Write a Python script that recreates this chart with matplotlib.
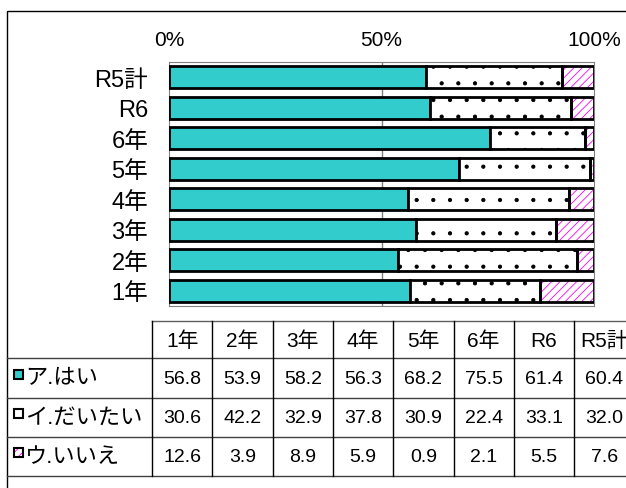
import matplotlib.pyplot as plt
from matplotlib.patches import Rectangle

plt.rcParams['font.family'] = ['Liberation Sans', 'Noto Sans CJK JP', 'DejaVu Sans']
plt.rcParams['hatch.linewidth'] = 0.6

# data (table column order, bottom bar first)
groups = ['1年', '2年', '3年', '4年', '5年', '6年', 'R6', 'R5計']
hai = [56.8, 53.9, 58.2, 56.3, 68.2, 75.5, 61.4, 60.4]
daitai = [30.6, 42.2, 32.9, 37.8, 30.9, 22.4, 33.1, 32.0]
iie = [12.6, 3.9, 8.9, 5.9, 0.9, 2.1, 5.5, 7.6]
series_names = ['ア.はい', 'イ.だいたい', 'ウ.いいえ']

W, H = 626, 489
fig = plt.figure(figsize=(W / 100, H / 100), dpi=100)

# overlay in pixel coordinates for frame + table
ov = fig.add_axes([0, 0, 1, 1])
ov.set_xlim(0, W)
ov.set_ylim(H, 0)
ov.axis('off')
ov.add_patch(Rectangle((7, 12), 700, 600, fill=False, edgecolor='black', lw=1))

# bar chart
ax = fig.add_axes([169 / W, 1 - 307 / H, (594 - 169) / W, (307 - 63) / H])
y = list(range(len(groups)))
left2 = hai
left3 = [a + b for a, b in zip(hai, daitai)]
bh = 0.72

ax.barh(y, hai, height=bh, color='#33CCCC', edgecolor='black', lw=2, zorder=3)
ax.barh(y, daitai, left=left2, height=bh, color='white', edgecolor='black',
        hatch='.', lw=0, zorder=3)
ax.barh(y, daitai, left=left2, height=bh, color='none', edgecolor='black', lw=2, zorder=4)
ax.barh(y, iie, left=left3, height=bh, color='white', edgecolor='#FF00FF',
        hatch='////', lw=0, zorder=3)
ax.barh(y, iie, left=left3, height=bh, color='none', edgecolor='black', lw=2, zorder=4)

ax.set_xlim(0, 100)
ax.set_ylim(-0.5, len(groups) - 0.5)
ax.axvline(50, color='#808080', lw=1, zorder=1)
for s in ax.spines.values():
    s.set_color('#808080')
ax.set_xticks([0, 50, 100])
ax.set_xticklabels(['0%', '50%', '100%'], fontsize=15)
ax.xaxis.tick_top()
ax.tick_params(axis='x', length=0, pad=9)
ax.set_yticks(y)
ax.set_yticklabels(groups, fontsize=17)
ax.tick_params(axis='y', length=0, pad=15)

# data table
col_x = [152 + 60.3 * k for k in range(len(groups) + 1)]
row_y = [322, 359, 399, 438, 477]
ov.plot([152, W], [row_y[0], row_y[0]], color='#606060', lw=1)
for ry in row_y[1:]:
    ov.plot([7, W], [ry, ry], color='#404040', lw=1)
for cx in col_x:
    ov.plot([cx, cx], [row_y[0], row_y[-1]], color='black', lw=1)

for j, g in enumerate(groups):
    ov.text((col_x[j] + col_x[j + 1]) / 2, (row_y[0] + row_y[1]) / 2 + 1, g,
            ha='center', va='center', fontsize=15)

rows = [hai, daitai, iie]
for i, vals in enumerate(rows):
    cy = (row_y[i + 1] + row_y[i + 2]) / 2
    for j, v in enumerate(vals):
        ov.text((col_x[j] + col_x[j + 1]) / 2, cy, f'{v:.1f}',
                ha='center', va='center', fontsize=14)
    ov.text(25, cy, series_names[i], ha='left', va='center', fontsize=16)

# legend keys
ov.add_patch(Rectangle((14, 371), 9, 9, facecolor='#33CCCC', edgecolor='black', lw=1.5))
ov.add_patch(Rectangle((14, 410), 9, 9, facecolor='white', edgecolor='black', lw=1.5))
ov.add_patch(Rectangle((14, 449), 9, 9, facecolor='white', edgecolor='#FF00FF',
                       hatch='////', lw=0))
ov.add_patch(Rectangle((14, 449), 9, 9, fill=False, edgecolor='black', lw=1.5))

fig.savefig('out.png', dpi=100)
